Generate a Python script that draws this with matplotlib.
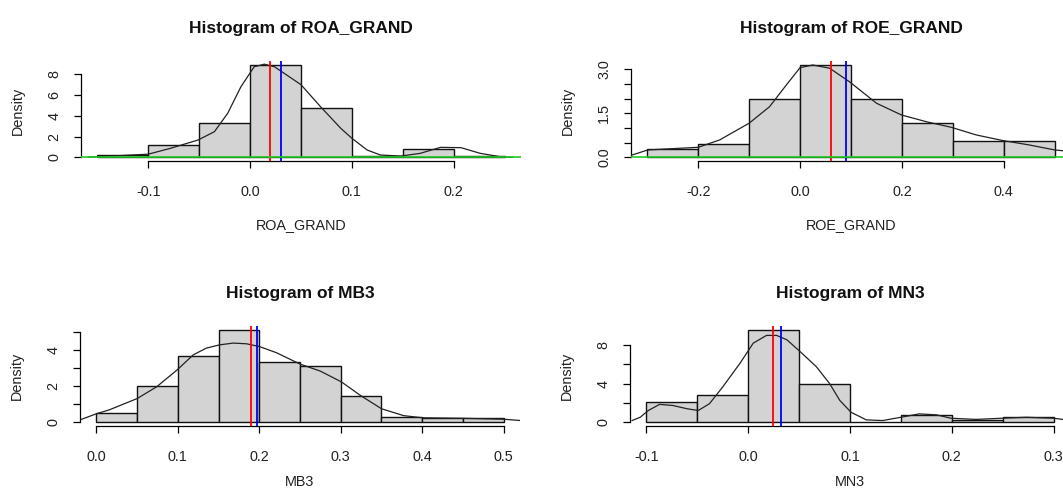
import numpy as np
import matplotlib
matplotlib.use("Agg")
import matplotlib.pyplot as plt

plt.rcParams['font.family'] = ['Liberation Sans', 'DejaVu Sans']

# ---- data ----
roa_edges = [-0.15, -0.10, -0.05, 0.00, 0.05, 0.10, 0.15, 0.20, 0.25]
roa_dens = [0.25, 1.19, 3.33, 8.93, 4.78, 0.10, 0.80, 0.10]
roa_kde_x = [-0.159, -0.137, -0.12, -0.10, -0.078, -0.051, -0.035, -0.022, -0.009, 0.004,
             0.014, 0.024, 0.05, 0.069, 0.089, 0.10, 0.115, 0.128, 0.148, 0.167,
             0.187, 0.207, 0.226, 0.246, 0.258]
roa_kde_y = [0.0, 0.12, 0.2, 0.3, 0.87, 1.67, 2.47, 4.24, 6.8, 8.73,
             8.98, 8.73, 7.0, 4.9, 2.8, 1.83, 0.7, 0.22, 0.12, 0.38,
             0.96, 0.93, 0.38, 0.05, 0.0]
roa_lines = [0.020, 0.030]

roe_edges = [-0.3, -0.2, -0.1, 0.0, 0.1, 0.2, 0.3, 0.4, 0.5]
roe_dens = [0.29, 0.45, 1.98, 3.15, 1.97, 1.17, 0.54, 0.54]
roe_kde_x = [-0.335, -0.299, -0.2, -0.158, -0.1, -0.06, -0.027, 0.0, 0.025, 0.058,
             0.097, 0.15, 0.199, 0.248, 0.297, 0.346, 0.398, 0.45, 0.5, 0.53]
roe_kde_y = [0.05, 0.25, 0.34, 0.59, 1.16, 1.72, 2.46, 3.05, 3.14, 3.03,
             2.57, 1.84, 1.44, 1.21, 1.02, 0.76, 0.57, 0.42, 0.25, 0.2]
roe_lines = [0.060, 0.090]

mb3_edges = [0.0, 0.05, 0.10, 0.15, 0.20, 0.25, 0.30, 0.35, 0.40, 0.45, 0.50]
mb3_dens = [0.52, 1.99, 3.67, 5.12, 3.35, 3.11, 1.44, 0.28, 0.25, 0.25]
mb3_kde_x = [-0.019, 0.0, 0.016, 0.05, 0.074, 0.099, 0.119, 0.135, 0.151, 0.168,
             0.1845, 0.20, 0.221, 0.25, 0.275, 0.301, 0.324, 0.35, 0.377, 0.40,
             0.451, 0.50, 0.52]
mb3_kde_y = [0.15, 0.47, 0.69, 1.31, 1.96, 2.89, 3.73, 4.1, 4.28, 4.38,
             4.34, 4.19, 3.85, 3.22, 2.83, 2.23, 1.49, 0.75, 0.37, 0.25,
             0.22, 0.17, 0.1]
mb3_lines = [0.190, 0.197]

mn3_edges = [-0.10, -0.05, 0.00, 0.05, 0.10, 0.15, 0.20, 0.25, 0.30]
mn3_dens = [2.06, 2.79, 9.57, 3.93, 0.0, 0.77, 0.28, 0.52]
mn3_kde_x = [-0.114, -0.106, -0.098, -0.087, -0.074, -0.06, -0.049, -0.038, -0.025, -0.008,
             0.005, 0.018, 0.028, 0.038, 0.051, 0.067, 0.08, 0.09, 0.101, 0.116,
             0.132, 0.15, 0.168, 0.185, 0.199, 0.224, 0.249, 0.273, 0.30, 0.316]
mn3_kde_y = [0.18, 0.52, 1.22, 1.85, 1.74, 1.4, 1.22, 1.92, 3.65, 6.1,
             8.18, 8.98, 8.98, 8.53, 7.31, 5.74, 4.0, 2.26, 1.04, 0.25,
             0.18, 0.52, 0.87, 0.77, 0.42, 0.3, 0.42, 0.52, 0.42, 0.2]
mn3_lines = [0.0245, 0.0327]

panels = [
    dict(name="ROA_GRAND", edges=roa_edges, dens=roa_dens, kx=roa_kde_x, ky=roa_kde_y,
         vl=roa_lines, green=True,
         xt=[-0.1, 0.0, 0.1, 0.2], xl=["-0.1", "0.0", "0.1", "0.2"],
         yt=[0, 2, 4, 6, 8], yl=["0", "2", "4", "6", "8"],
         box=(81, 61), xlab_off=0.64),
    dict(name="ROE_GRAND", edges=roe_edges, dens=roe_dens, kx=roe_kde_x, ky=roe_kde_y,
         vl=roe_lines, green=True,
         xt=[-0.2, 0.0, 0.2, 0.4], xl=["-0.2", "0.0", "0.2", "0.4"],
         yt=[0, 0.5, 1.0, 1.5, 2.0, 2.5, 3.0], yl=["0.0", "", "", "1.5", "", "", "3.0"],
         box=(631, 61), xlab_off=0.64),
    dict(name="MB3", edges=mb3_edges, dens=mb3_dens, kx=mb3_kde_x, ky=mb3_kde_y,
         vl=mb3_lines, green=False,
         xt=[0.0, 0.1, 0.2, 0.3, 0.4, 0.5], xl=["0.0", "0.1", "0.2", "0.3", "0.4", "0.5"],
         yt=[0, 1, 2, 3, 4, 5], yl=["0", "", "2", "", "4", ""],
         box=(80, 326), xlab_off=0.565),
    dict(name="MN3", edges=mn3_edges, dens=mn3_dens, kx=mn3_kde_x, ky=mn3_kde_y,
         vl=mn3_lines, green=False,
         xt=[-0.1, 0.0, 0.1, 0.2, 0.3], xl=["-0.1", "0.0", "0.1", "0.2", "0.3"],
         yt=[0, 2, 4, 6, 8], yl=["0", "", "4", "", "8"],
         box=(630, 326), xlab_off=0.565),
]

W, H = 1063, 496
AW, AH = 440, 100
fig = plt.figure(figsize=(W / 100, H / 100), dpi=100)

for p in panels:
    left, top = p["box"]
    ax = fig.add_axes([left / W, 1 - (top + AH) / H, AW / W, AH / H])
    edges = np.array(p["edges"])
    widths = np.diff(edges)
    ax.bar(edges[:-1], p["dens"], width=widths, align="edge",
           color="#d3d3d3", edgecolor="#111111", linewidth=1.0, zorder=1)
    ax.plot(p["kx"], p["ky"], color="#222222", linewidth=0.9, zorder=3)
    ax.axvline(p["vl"][0], color="red", linewidth=1.3, zorder=4)
    ax.axvline(p["vl"][1], color="blue", linewidth=1.3, zorder=4)
    if p["green"]:
        ax.axhline(0, color="#22cc22", linewidth=1.2, zorder=5)

    lo, hi = edges[0], edges[-1]
    ax.set_xlim(lo - 0.04 * (hi - lo), hi + 0.04 * (hi - lo))
    ymax = max(p["dens"])
    ax.set_ylim(-0.04 * ymax, 1.04 * ymax)

    ax.set_xticks(p["xt"])
    ax.set_xticklabels(p["xl"])
    ax.set_yticks(p["yt"])
    ax.set_yticklabels(p["yl"])
    for s in ["top", "right"]:
        ax.spines[s].set_visible(False)
    ax.spines["bottom"].set_bounds(p["xt"][0], p["xt"][-1])
    ax.spines["left"].set_bounds(p["yt"][0], p["yt"][-1])
    ax.spines["bottom"].set_linewidth(0.9)
    ax.spines["left"].set_linewidth(0.9)
    ax.tick_params(axis="both", direction="out", length=5, width=0.9,
                   labelsize=10.4, labelcolor="#222222")
    ax.tick_params(axis="x", pad=12)
    ax.tick_params(axis="y", pad=9.2, labelrotation=90)
    for lab in ax.get_yticklabels():
        lab.set_va("center")

    ax.set_title("Histogram of " + p["name"], fontsize=12.5, fontweight="bold",
                 pad=20.2, color="#111111")
    ax.text(0.5, -p["xlab_off"], p["name"], transform=ax.transAxes,
            ha="center", va="center", fontsize=10.4, color="#222222")
    ax.text(-63 / AW, 0.5, "Density", transform=ax.transAxes, rotation=90,
            ha="center", va="center", fontsize=10.4, color="#222222")

fig.savefig("out.png", dpi=100)
